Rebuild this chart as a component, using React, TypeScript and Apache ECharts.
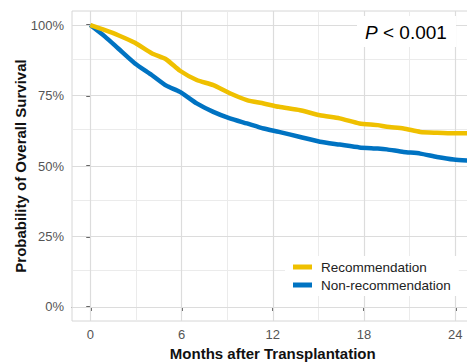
import React, { useEffect, useRef } from "react";
import * as echarts from "echarts";

const months = [0, 0.97, 1.84, 2.94, 4.04, 5.0, 5.9, 7.0, 8.09, 9.18, 10.3, 11.4, 12.4, 13.8, 15.1, 16.4, 17.7, 18.9, 19.5, 20.6, 21.7, 22.8, 23.9, 25.2];
const recommendation = [1.0, 0.982, 0.964, 0.937, 0.9, 0.878, 0.838, 0.805, 0.787, 0.758, 0.734, 0.722, 0.71, 0.698, 0.68, 0.669, 0.651, 0.645, 0.639, 0.633, 0.621, 0.618, 0.616, 0.616];
const nonRecommendation = [1.0, 0.959, 0.917, 0.864, 0.823, 0.785, 0.763, 0.722, 0.692, 0.669, 0.651, 0.633, 0.621, 0.603, 0.586, 0.576, 0.566, 0.562, 0.559, 0.55, 0.544, 0.532, 0.523, 0.518];

const seriesNames = ["Recommendation", "Non-recommendation"];
const seriesColors = ["#EFC000", "#0073C2"];

const xTicks = [0, 6, 12, 18, 24];
const xMinor = [3, 9, 15, 21];
const yTicks = [0, 0.25, 0.5, 0.75, 1];
const yMinor = [0.125, 0.375, 0.625, 0.875];

const FONT = 'Arial, "Liberation Sans", sans-serif';

export default function App() {
  const ref = useRef<HTMLDivElement>(null);
  useEffect(() => {
    if (!ref.current) return;
    const chart = echarts.init(ref.current, null, { renderer: "svg" });
    const pair = (ys: number[]) => months.map((m, i) => [m, ys[i]]);
    const major = { color: "#dcdcdc", width: 1.2, type: "solid" };
    const minor = { color: "#ebebeb", width: 1, type: "solid" };
    const gridLines = [
      ...xMinor.map((v) => ({ xAxis: v, lineStyle: minor })),
      ...yMinor.map((v) => ({ yAxis: v, lineStyle: minor })),
      ...xTicks.map((v) => ({ xAxis: v, lineStyle: major })),
      ...yTicks.map((v) => ({ yAxis: v, lineStyle: major })),
    ];
    chart.setOption({
      animation: false,
      textStyle: { fontFamily: FONT },
      grid: {
        left: 72,
        top: 11,
        width: 401.5,
        height: 310,
        outerBoundsMode: "none",
        containLabel: false,
        show: true,
        borderColor: "#d6d6d6",
        borderWidth: 1,
        backgroundColor: "#ffffff",
      },
      xAxis: {
        type: "value",
        min: -1.2,
        max: 25.2,
        name: "Months after Transplantation",
        nameLocation: "middle",
        nameGap: 25,
        nameMoveOverlap: false,
        nameTextStyle: { fontSize: 15, fontWeight: "bold", color: "#111", fontFamily: FONT },
        axisLine: { show: true, lineStyle: { color: "#8c8c8c", width: 1.2 } },
        axisTick: { show: true, length: 4, customValues: xTicks, lineStyle: { color: "#333", width: 1.5 } },
        axisLabel: { customValues: xTicks, margin: 7, fontSize: 13, color: "#555", fontFamily: FONT },
        splitLine: { show: false },
      },
      yAxis: {
        type: "value",
        min: -0.05,
        max: 1.05,
        name: "Probability of Overall Survival",
        nameLocation: "middle",
        nameGap: 44,
        nameMoveOverlap: false,
        nameTextStyle: { fontSize: 15, fontWeight: "bold", color: "#111", fontFamily: FONT },
        axisLine: { show: false },
        axisTick: { show: true, length: 4, customValues: yTicks, lineStyle: { color: "#333", width: 1.5 } },
        axisLabel: {
          customValues: yTicks,
          margin: 8,
          fontSize: 13,
          color: "#555",
          fontFamily: FONT,
          formatter: (v: number) => Math.round(v * 100) + "%",
        },
        splitLine: { show: false },
      },
      legend: {
        orient: "vertical",
        left: 285,
        top: 256,
        z: 20,
        padding: [4, 8, 4, 8],
        backgroundColor: "#ffffff",
        itemWidth: 19,
        itemHeight: 5,
        itemGap: 4,
        icon: "rect",
        data: seriesNames,
        textStyle: { fontSize: 13.5, color: "#222", fontFamily: FONT, padding: [0, 0, 0, 4] },
      },
      graphic: [
        {
          type: "rect",
          shape: { x: 357, y: 16, width: 99, height: 31 },
          style: { fill: "#ffffff" },
          z: 10,
        },
        {
          type: "text",
          x: 365,
          y: 32,
          z: 11,
          style: {
            text: "{p|P} < 0.001",
            fontSize: 19,
            fontFamily: FONT,
            fill: "#000",
            verticalAlign: "middle",
            rich: { p: { fontStyle: "italic", fontSize: 19, fontFamily: FONT, fill: "#000" } },
          },
        },
      ],
      series: [
        {
          type: "line",
          name: "__grid",
          data: [[0, 1]],
          showSymbol: false,
          symbol: "none",
          lineStyle: { opacity: 0 },
          z: 1,
          silent: true,
          markLine: { z: 1, silent: true, symbol: "none", label: { show: false }, data: gridLines, animation: false },
        },
        {
          type: "line",
          name: seriesNames[1],
          data: pair(nonRecommendation),
          showSymbol: false,
          symbol: "none",
          smooth: 0.2,
          color: seriesColors[1],
          lineStyle: { color: seriesColors[1], width: 4.5 },
          z: 3,
        },
        {
          type: "line",
          name: seriesNames[0],
          data: pair(recommendation),
          showSymbol: false,
          symbol: "none",
          smooth: 0.2,
          color: seriesColors[0],
          lineStyle: { color: seriesColors[0], width: 4.5 },
          z: 4,
        },
      ],
    });
    return () => chart.dispose();
  }, []);
  return <div ref={ref} style={{ position: "absolute", left: 0, top: 0, width: 467, height: 362 }} />;
}
